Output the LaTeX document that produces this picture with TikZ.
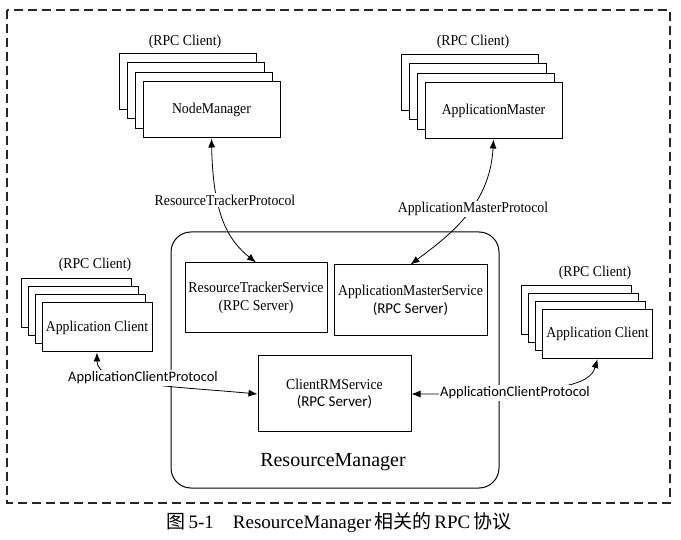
\documentclass[tikz,border=0pt]{standalone}
\usepackage{fontspec}
\setmainfont{Liberation Serif}
\newfontfamily\figserif{Liberation Serif}[FakeStretch=0.92]
\newfontfamily\calibrisans{Carlito}
\newfontfamily\cjk{Noto Sans CJK SC}
\usetikzlibrary{arrows.meta,shadows}

\begin{document}
\begin{tikzpicture}[
  x=1pt,
  y=-1pt,
  line/.style={draw=black,line width=1pt},
  serif/.style={font=\figserif\fontsize{15}{17.5}\selectfont},
  bigstack/.style={line,fill=white,serif,minimum width=137pt,minimum height=56pt,inner sep=2pt,
    copy shadow={shadow xshift=-24pt,shadow yshift=28pt,line width=1pt},
    copy shadow={shadow xshift=-16pt,shadow yshift=19pt,line width=1pt},
    copy shadow={shadow xshift=-8pt,shadow yshift=9pt,line width=1pt}},
  smallstack/.style={line,fill=white,serif,minimum width=110pt,minimum height=49pt,inner sep=2pt,
    copy shadow={shadow xshift=-21pt,shadow yshift=24pt,line width=1pt},
    copy shadow={shadow xshift=-14pt,shadow yshift=16pt,line width=1pt},
    copy shadow={shadow xshift=-7pt,shadow yshift=8pt,line width=1pt}},
  servbox/.style={line,fill=white,serif,align=center,inner sep=2pt},
  biarrow/.style={draw=black,line width=0.8pt,
    {Latex[length=9pt,width=7pt]}-{Latex[length=9pt,width=7pt]}},
  protolabel/.style={fill=white,inner sep=1.5pt,serif},
  sanslabel/.style={fill=white,inner sep=1.5pt,font=\calibrisans\fontsize{14.5}{16.5}\selectfont},
  border/.style={draw=black!85,line width=1.3pt,dash pattern=on 9pt off 5pt}
]
\useasboundingbox (0,0) rectangle (681,540);

% outer frame
\draw[border] (7,10) rectangle (670,503);

% ResourceManager and its services
\node[line,rounded corners=20pt,minimum width=328pt,minimum height=256pt] (rm) at (335,360) {};
\node[font=\fontsize{20}{22}\selectfont] (rmname) at (333,462) {ResourceManager};

\node[servbox,minimum width=142pt,minimum height=70pt] (rts) at (256,298)
  {ResourceTrackerService\\(RPC Server)};
\node[servbox,minimum width=153pt,minimum height=71pt] (ams) at (410.5,300.5)
  {ApplicationMasterService\\{\calibrisans (RPC Server)}};
\node[servbox,minimum width=153pt,minimum height=76pt] (crm) at (334.5,394)
  {ClientRMService\\{\calibrisans (RPC Server)}};

% RPC clients (stacked)
\node[bigstack] (nm) at (211.5,110) {NodeManager};
\node[serif] (nmrpc) at (185,42) {(RPC Client)};
\node[bigstack] (am) at (493.5,111) {ApplicationMaster};
\node[serif] (amrpc) at (473,42) {(RPC Client)};
\node[smallstack] (acl) at (97,327.5) {Application Client};
\node[serif] (aclrpc) at (95,265) {(RPC Client)};
\node[smallstack] (acr) at (597.5,334) {Application Client};
\node[serif] (acrrpc) at (595,273) {(RPC Client)};

% protocols
\draw[biarrow] (nm.south) .. controls (213,215) and (228,240) .. (rts.north);
\node[protolabel] (rtp) at (225,200) {ResourceTrackerProtocol};
\draw[biarrow] (am.south) .. controls (490,205) and (450,235) .. (ams.north);
\node[protolabel] (amp) at (473,209) {ApplicationMasterProtocol};
\draw[biarrow] (acl.south) .. controls (97,385) and (170,386) .. (crm.west);
\node[sanslabel] (acpl) at (143,378) {ApplicationClientProtocol};
\draw[biarrow] (crm.east) .. controls (560,394) and (590,385) .. (acr.south);
\node[sanslabel] (acpr) at (515,393) {ApplicationClientProtocol};

% caption
\node[font=\fontsize{19}{22}\selectfont] (caption) at (339,523)
  {{\cjk 图}\,5-1\quad ResourceManager\,{\cjk 相关的}\,RPC\,{\cjk 协议}};
\end{tikzpicture}
\end{document}
